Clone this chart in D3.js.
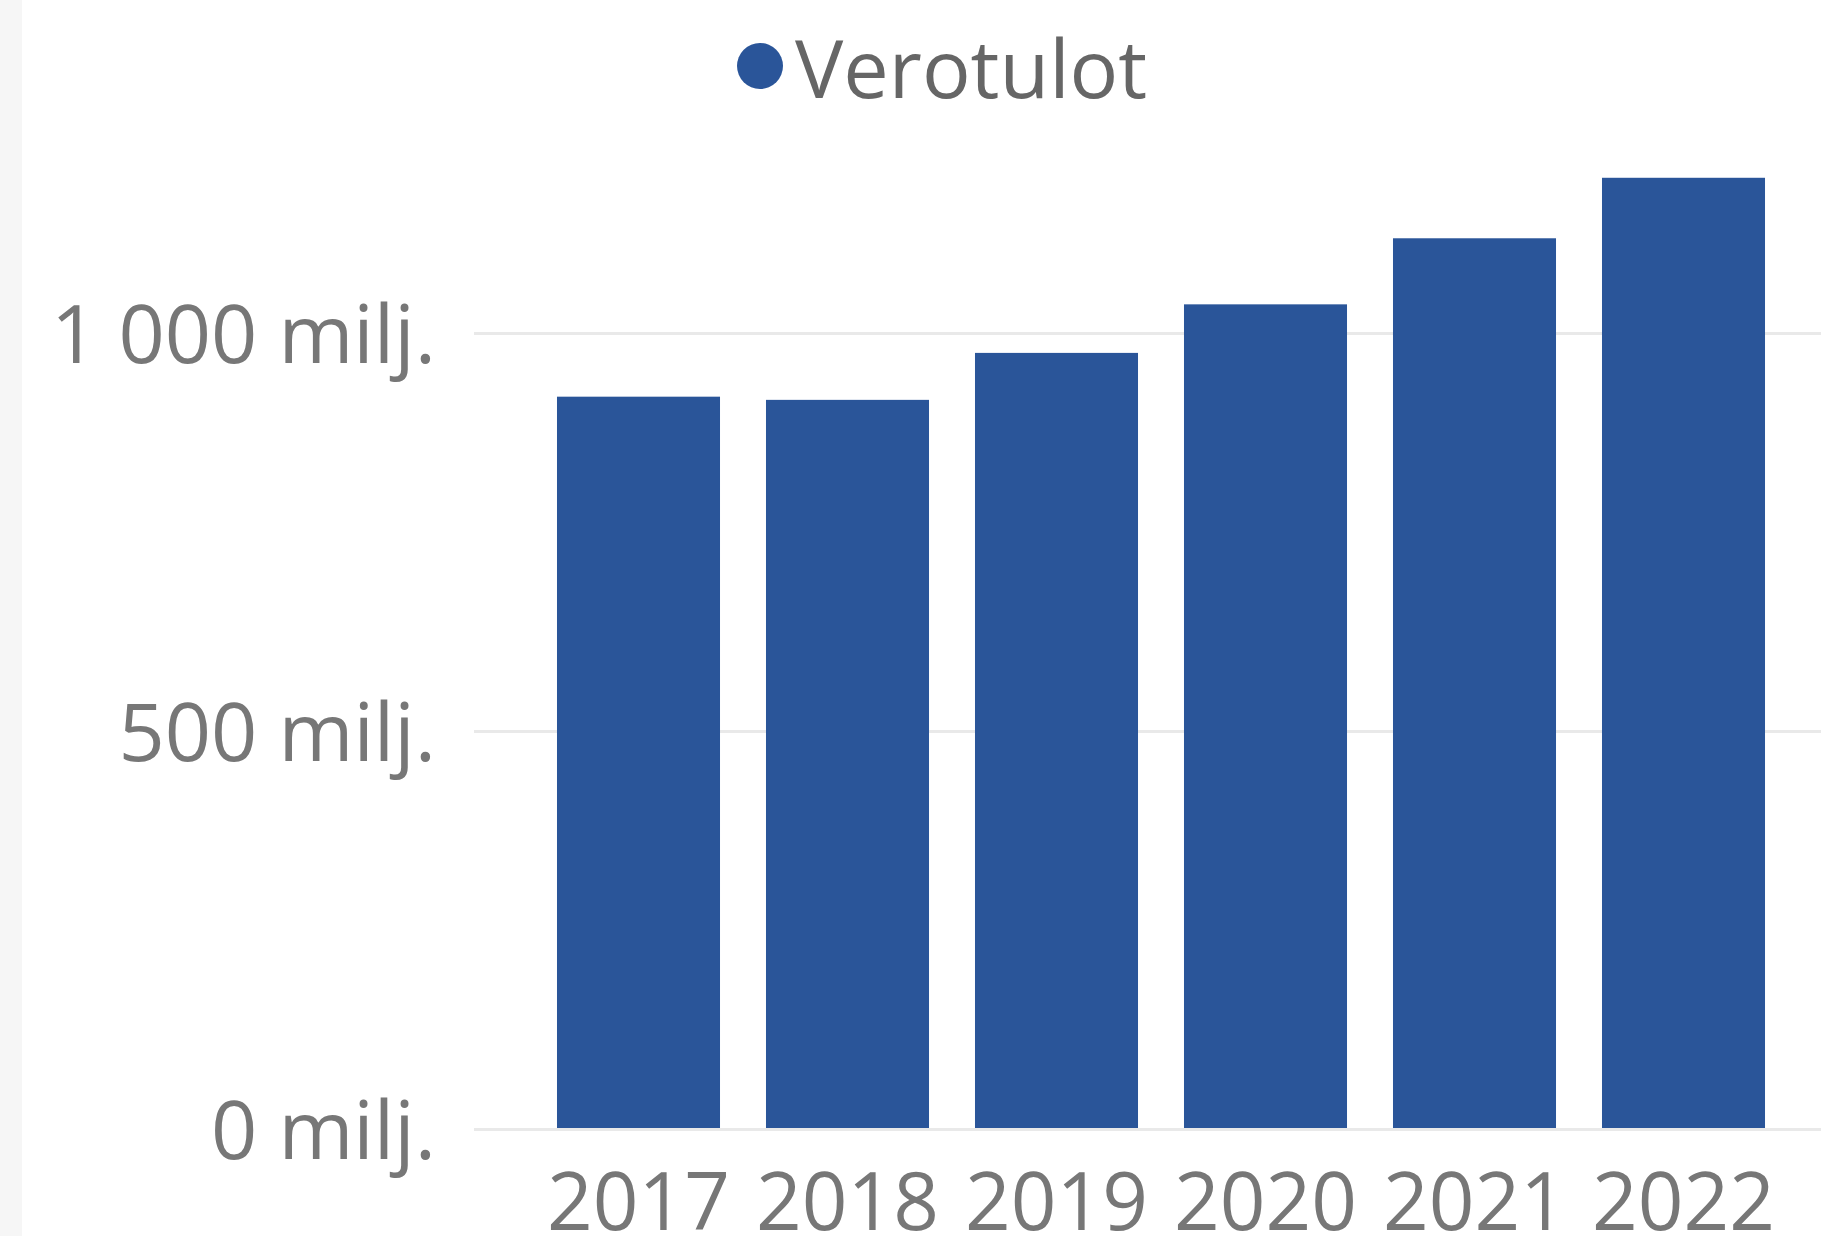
<!DOCTYPE html>
<html>
<head>
<meta charset="utf-8">
<script src="https://cdn.jsdelivr.net/npm/d3@7"></script>
<style>
  body { margin: 0; background: #ffffff; overflow: hidden; }
  svg { display: block; }
  text { font-family: 'Open Sans', 'Noto Sans', sans-serif; }
</style>
</head>
<body>
<svg id="canvas" width="1821" height="1236"></svg>
<script>
let years = ['2017', '2018', '2019', '2020', '2021', '2022']
let taxIncome = [920, 916, 975, 1036, 1119, 1195]
let yTicks = [0, 500, 1000]
let seriesName = 'Verotulot'

let canvas = d3.select('#canvas')

let width = 1821
let height = 1236

// faint shadow strip on the left edge
canvas.append('rect')
  .attr('x', 0)
  .attr('y', 0)
  .attr('width', 22)
  .attr('height', height)
  .attr('fill', '#f6f6f6')

let xScale = d3.scaleBand()
  .domain(years)
  .range([534, 1788])
  .paddingInner(0.22)
  .paddingOuter(0.11)

let yScale = d3.scaleLinear()
  .domain([0, 1000])
  .range([1129, 333])

let formatTick = (value) => {
  return d3.format(',')(value).replace(/,/g, ' ') + ' milj.'
}

// gridlines
let grid = canvas.append('g')
  .attr('transform', 'translate(474, 0)')
  .call(d3.axisLeft(yScale).tickValues(yTicks).tickSize(-(width - 474)).tickFormat(''))
grid.select('.domain').remove()
grid.selectAll('.tick line')
  .attr('stroke', '#e9e9e9')
  .attr('stroke-width', 3)

// bars
canvas.selectAll('.bar')
  .data(taxIncome)
  .enter()
  .append('rect')
  .attr('class', 'bar')
  .attr('x', (d, i) => xScale(years[i]))
  .attr('y', (d) => yScale(d))
  .attr('width', xScale.bandwidth())
  .attr('height', (d) => yScale(0) - yScale(d) - 1)
  .attr('fill', '#2a5599')

// y axis labels
let yAxis = canvas.append('g')
  .attr('transform', 'translate(436, 0)')
  .call(d3.axisLeft(yScale).tickValues(yTicks).tickSize(0).tickPadding(0).tickFormat(formatTick))
yAxis.select('.domain').remove()
yAxis.selectAll('text')
  .attr('dy', null)
  .attr('y', 29)
  .attr('font-size', 81)
  .attr('font-family', "'Open Sans', 'Noto Sans', sans-serif")
  .attr('fill', '#777777')

// x axis labels
let xAxis = canvas.append('g')
  .attr('transform', 'translate(0, 1129)')
  .call(d3.axisBottom(xScale).tickSize(0).tickPadding(0))
xAxis.select('.domain').remove()
xAxis.selectAll('text')
  .attr('dy', null)
  .attr('y', 101)
  .attr('font-size', 80)
  .attr('font-family', "'Open Sans', 'Noto Sans', sans-serif")
  .attr('fill', '#777777')

// legend
let legend = canvas.append('g')
legend.append('circle')
  .attr('cx', 760)
  .attr('cy', 66)
  .attr('r', 23)
  .attr('fill', '#2a5599')
legend.append('text')
  .attr('x', 795)
  .attr('y', 98)
  .attr('font-size', 81)
  .attr('fill', '#666666')
  .text(seriesName)
</script>
</body>
</html>
